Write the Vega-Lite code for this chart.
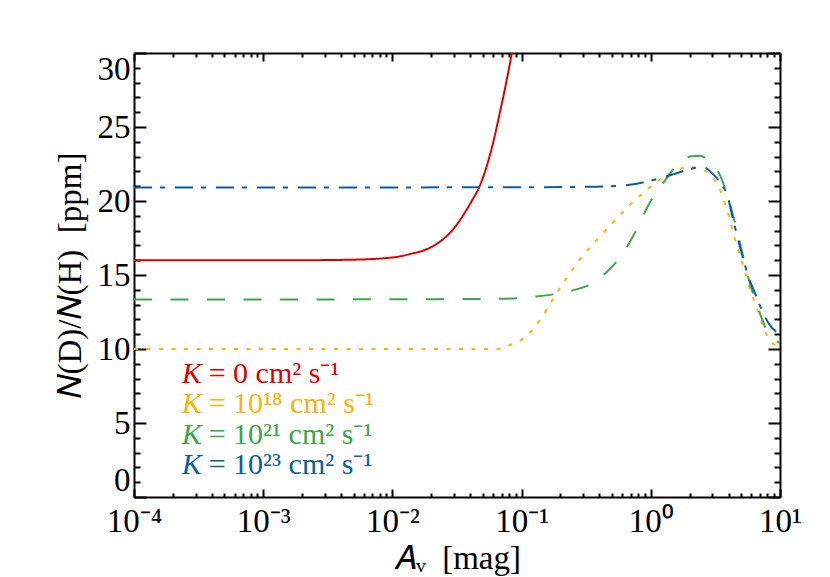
{
  "$schema": "https://vega.github.io/schema/vega-lite/v6.json",
  "width": 646,
  "height": 444,
  "autosize": {"type": "none"},
  "padding": {"left": 134, "top": 53, "right": 50, "bottom": 80},
  "background": "white",
  "config": {
    "view": {"stroke": null},
    "axis": {
      "grid": false,
      "domainColor": "black",
      "domainWidth": 2,
      "tickColor": "black",
      "tickWidth": 2,
      "labelFont": "Liberation Serif",
      "labelFontSize": 33,
      "labelColor": "black",
      "titleFont": "Liberation Serif",
      "titleFontSize": 33,
      "titleFontWeight": "normal",
      "titleColor": "black",
      "labelOverlap": false
    }
  },
  "resolve": {"axis": {"x": "independent", "y": "independent"}},
  "layer": [
    {
      "data": {
        "values": [
          {"K": "0", "av": 0.0001, "d": 16.0},
          {"K": "0", "av": 0.0003, "d": 16.0},
          {"K": "0", "av": 0.00193, "d": 16.0},
          {"K": "0", "av": 0.0047, "d": 16.03},
          {"K": "0", "av": 0.0085, "d": 16.13},
          {"K": "0", "av": 0.0115, "d": 16.26},
          {"K": "0", "av": 0.0137, "d": 16.42},
          {"K": "0", "av": 0.0184, "d": 16.74},
          {"K": "0", "av": 0.0233, "d": 17.25},
          {"K": "0", "av": 0.0296, "d": 18.1},
          {"K": "0", "av": 0.0354, "d": 19.05},
          {"K": "0", "av": 0.0411, "d": 20.0},
          {"K": "0", "av": 0.0476, "d": 21.05},
          {"K": "0", "av": 0.055, "d": 22.65},
          {"K": "0", "av": 0.061, "d": 24.15},
          {"K": "0", "av": 0.068, "d": 26.0},
          {"K": "0", "av": 0.076, "d": 28.0},
          {"K": "0", "av": 0.084, "d": 30.0},
          {"K": "0", "av": 0.09, "d": 31.6},
          {"K": "1e18", "av": 0.0001, "d": 10.0},
          {"K": "1e18", "av": 0.001, "d": 10.0},
          {"K": "1e18", "av": 0.01, "d": 10.0},
          {"K": "1e18", "av": 0.05, "d": 10.0},
          {"K": "1e18", "av": 0.068, "d": 10.02},
          {"K": "1e18", "av": 0.0813, "d": 10.27},
          {"K": "1e18", "av": 0.103, "d": 10.7},
          {"K": "1e18", "av": 0.139, "d": 11.96},
          {"K": "1e18", "av": 0.176, "d": 13.4},
          {"K": "1e18", "av": 0.223, "d": 14.8},
          {"K": "1e18", "av": 0.292, "d": 16.2},
          {"K": "1e18", "av": 0.404, "d": 17.6},
          {"K": "1e18", "av": 0.544, "d": 18.8},
          {"K": "1e18", "av": 0.733, "d": 19.95},
          {"K": "1e18", "av": 0.875, "d": 20.55},
          {"K": "1e18", "av": 1.04, "d": 21.1},
          {"K": "1e18", "av": 1.53, "d": 22.0},
          {"K": "1e18", "av": 1.95, "d": 22.3},
          {"K": "1e18", "av": 2.4, "d": 22.2},
          {"K": "1e18", "av": 2.87, "d": 21.75},
          {"K": "1e18", "av": 3.33, "d": 21.0},
          {"K": "1e18", "av": 3.79, "d": 19.7},
          {"K": "1e18", "av": 4.16, "d": 18.5},
          {"K": "1e18", "av": 4.62, "d": 17.0},
          {"K": "1e18", "av": 5.17, "d": 15.7},
          {"K": "1e18", "av": 5.8, "d": 14.2},
          {"K": "1e18", "av": 6.79, "d": 12.5},
          {"K": "1e18", "av": 7.5, "d": 11.4},
          {"K": "1e18", "av": 8.2, "d": 10.7},
          {"K": "1e18", "av": 9.4, "d": 10.2},
          {"K": "1e18", "av": 10, "d": 10.1},
          {"K": "1e21", "av": 0.0001, "d": 13.35},
          {"K": "1e21", "av": 0.001, "d": 13.35},
          {"K": "1e21", "av": 0.01, "d": 13.36},
          {"K": "1e21", "av": 0.0764, "d": 13.4},
          {"K": "1e21", "av": 0.123, "d": 13.53},
          {"K": "1e21", "av": 0.223, "d": 13.87},
          {"K": "1e21", "av": 0.359, "d": 14.48},
          {"K": "1e21", "av": 0.456, "d": 15.2},
          {"K": "1e21", "av": 0.578, "d": 16.2},
          {"K": "1e21", "av": 0.69, "d": 17.25},
          {"K": "1e21", "av": 0.82, "d": 18.5},
          {"K": "1e21", "av": 0.93, "d": 19.5},
          {"K": "1e21", "av": 1.08, "d": 20.5},
          {"K": "1e21", "av": 1.29, "d": 21.4},
          {"K": "1e21", "av": 1.58, "d": 22.4},
          {"K": "1e21", "av": 2.01, "d": 23.0},
          {"K": "1e21", "av": 2.4, "d": 23.05},
          {"K": "1e21", "av": 2.87, "d": 22.65},
          {"K": "1e21", "av": 3.43, "d": 21.75},
          {"K": "1e21", "av": 3.87, "d": 20.5},
          {"K": "1e21", "av": 4.62, "d": 18.1},
          {"K": "1e21", "av": 5.69, "d": 14.8},
          {"K": "1e21", "av": 7.0, "d": 12.4},
          {"K": "1e21", "av": 8.1, "d": 11.05},
          {"K": "1e21", "av": 9.4, "d": 10.5},
          {"K": "1e21", "av": 10, "d": 10.43},
          {"K": "1e23", "av": 0.0001, "d": 20.92},
          {"K": "1e23", "av": 0.001, "d": 20.92},
          {"K": "1e23", "av": 0.01, "d": 20.92},
          {"K": "1e23", "av": 0.1, "d": 20.93},
          {"K": "1e23", "av": 0.3, "d": 20.96},
          {"K": "1e23", "av": 0.456, "d": 20.99},
          {"K": "1e23", "av": 0.733, "d": 21.13},
          {"K": "1e23", "av": 1.02, "d": 21.4},
          {"K": "1e23", "av": 1.49, "d": 21.8},
          {"K": "1e23", "av": 2.01, "d": 22.16},
          {"K": "1e23", "av": 2.55, "d": 22.3},
          {"K": "1e23", "av": 2.96, "d": 21.9},
          {"K": "1e23", "av": 3.54, "d": 21.1},
          {"K": "1e23", "av": 3.87, "d": 20.5},
          {"K": "1e23", "av": 4.35, "d": 18.7},
          {"K": "1e23", "av": 4.9, "d": 16.9},
          {"K": "1e23", "av": 5.69, "d": 14.9},
          {"K": "1e23", "av": 6.6, "d": 13.5},
          {"K": "1e23", "av": 7.43, "d": 12.4},
          {"K": "1e23", "av": 8.37, "d": 11.6},
          {"K": "1e23", "av": 9.7, "d": 11.05},
          {"K": "1e23", "av": 10, "d": 10.95}
        ]
      },
      "mark": {"type": "line", "strokeWidth": 2, "clip": true, "interpolate": "monotone"},
      "encoding": {
        "x": {
          "field": "av", "type": "quantitative",
          "scale": {"type": "log", "domain": [0.0001, 10], "nice": false},
          "axis": {
            "orient": "bottom",
            "values": [0.0001, 0.001, 0.01, 0.1, 1, 10],
            "tickSize": -8,
            "labelPadding": 16,
            "labelFlush": false,
            "labelExpr": "datum.value < 0.00015 ? '10⁻⁴' : datum.value < 0.0015 ? '10⁻³' : datum.value < 0.015 ? '10⁻²' : datum.value < 0.15 ? '10⁻¹' : datum.value < 1.5 ? '10⁰' : '10¹'",
            "title": "𝐴ᵥ\u00a0\u00a0[mag]",
            "titlePadding": 4
          }
        },
        "y": {
          "field": "d", "type": "quantitative",
          "scale": {"domain": [0, 30], "nice": false, "zero": false},
          "axis": {
            "orient": "left",
            "values": [0, 5, 10, 15, 20, 25, 30],
            "tickSize": -12,
            "labelPadding": 16,
            "labelFlush": true,
            "title": "𝑁(D)/𝑁(H)\u00a0\u00a0[ppm]",
            "titlePadding": 10
          }
        },
        "color": {
          "field": "K", "type": "nominal",
          "scale": {"domain": ["0", "1e18", "1e21", "1e23"], "range": ["#dd0000", "#ffb300", "#3ca54e", "#0a5e9c"]},
          "legend": null
        },
        "strokeDash": {
          "field": "K", "type": "nominal",
          "scale": {"domain": ["0", "1e18", "1e21", "1e23"], "range": [[1, 0], [4, 8.5], [18, 18.5], [18, 8, 5, 10]]},
          "legend": null
        }
      }
    },
    {
      "data": {"values": [{}]},
      "mark": {"type": "point", "opacity": 0},
      "encoding": {
        "x": {"datum": 1, "type": "quantitative", "axis": {"orient": "bottom", "values": [0.0002, 0.0003, 0.0004, 0.0005, 0.0006, 0.0007, 0.0008, 0.0009, 0.002, 0.003, 0.004, 0.005, 0.006, 0.007, 0.008, 0.009, 0.02, 0.03, 0.04, 0.05, 0.06, 0.07, 0.08, 0.09, 0.2, 0.3, 0.4, 0.5, 0.6, 0.7, 0.8, 0.9, 2, 3, 4, 5, 6, 7, 8, 9], "tickSize": -4, "labels": false, "domain": false, "title": null}},
        "y": {"datum": 10, "type": "quantitative", "axis": {"orient": "left", "values": [1, 2, 3, 4, 6, 7, 8, 9, 11, 12, 13, 14, 16, 17, 18, 19, 21, 22, 23, 24, 26, 27, 28, 29], "tickSize": -6, "labels": false, "domain": false, "title": null}}
      }
    },
    {
      "data": {"values": [{}]},
      "mark": {"type": "point", "opacity": 0},
      "encoding": {
        "x": {"datum": 1, "type": "quantitative", "axis": {"orient": "top", "values": [0.0001, 0.001, 0.01, 0.1, 1, 10], "tickSize": -8, "labels": false, "title": null}},
        "y": {"datum": 10, "type": "quantitative", "axis": {"orient": "right", "values": [0, 5, 10, 15, 20, 25, 30], "tickSize": -12, "labels": false, "title": null}}
      }
    },
    {
      "data": {"values": [{}]},
      "mark": {"type": "point", "opacity": 0},
      "encoding": {
        "x": {"datum": 1, "type": "quantitative", "axis": {"orient": "top", "values": [0.0002, 0.0003, 0.0004, 0.0005, 0.0006, 0.0007, 0.0008, 0.0009, 0.002, 0.003, 0.004, 0.005, 0.006, 0.007, 0.008, 0.009, 0.02, 0.03, 0.04, 0.05, 0.06, 0.07, 0.08, 0.09, 0.2, 0.3, 0.4, 0.5, 0.6, 0.7, 0.8, 0.9, 2, 3, 4, 5, 6, 7, 8, 9], "tickSize": -4, "labels": false, "domain": false, "title": null}},
        "y": {"datum": 10, "type": "quantitative", "axis": {"orient": "right", "values": [1, 2, 3, 4, 6, 7, 8, 9, 11, 12, 13, 14, 16, 17, 18, 19, 21, 22, 23, 24, 26, 27, 28, 29], "tickSize": -6, "labels": false, "domain": false, "title": null}}
      }
    },
    {
      "data": {"values": [{"label": "K"}]},
      "mark": {"type": "text", "align": "left", "baseline": "alphabetic", "font": "Liberation Serif", "fontStyle": "italic", "fontSize": 30, "color": "#dd0000"},
      "encoding": {"text": {"field": "label"}, "x": {"datum": 0.000234, "type": "quantitative", "axis": null}, "y": {"datum": 7.7, "type": "quantitative", "axis": null}}
    },
    {
      "data": {"values": [{"label": "= 0 cm² s⁻¹"}]},
      "mark": {"type": "text", "align": "left", "baseline": "alphabetic", "font": "Liberation Serif", "fontSize": 30, "color": "#dd0000", "dx": 27},
      "encoding": {"text": {"field": "label"}, "x": {"datum": 0.000234, "type": "quantitative", "axis": null}, "y": {"datum": 7.7, "type": "quantitative", "axis": null}}
    },
    {
      "data": {"values": [{"label": "K"}]},
      "mark": {"type": "text", "align": "left", "baseline": "alphabetic", "font": "Liberation Serif", "fontStyle": "italic", "fontSize": 30, "color": "#ffb300"},
      "encoding": {"text": {"field": "label"}, "x": {"datum": 0.000234, "type": "quantitative", "axis": null}, "y": {"datum": 5.65, "type": "quantitative", "axis": null}}
    },
    {
      "data": {"values": [{"label": "= 10¹⁸ cm² s⁻¹"}]},
      "mark": {"type": "text", "align": "left", "baseline": "alphabetic", "font": "Liberation Serif", "fontSize": 30, "color": "#ffb300", "dx": 27},
      "encoding": {"text": {"field": "label"}, "x": {"datum": 0.000234, "type": "quantitative", "axis": null}, "y": {"datum": 5.65, "type": "quantitative", "axis": null}}
    },
    {
      "data": {"values": [{"label": "K"}]},
      "mark": {"type": "text", "align": "left", "baseline": "alphabetic", "font": "Liberation Serif", "fontStyle": "italic", "fontSize": 30, "color": "#3ca54e"},
      "encoding": {"text": {"field": "label"}, "x": {"datum": 0.000234, "type": "quantitative", "axis": null}, "y": {"datum": 3.6, "type": "quantitative", "axis": null}}
    },
    {
      "data": {"values": [{"label": "= 10²¹ cm² s⁻¹"}]},
      "mark": {"type": "text", "align": "left", "baseline": "alphabetic", "font": "Liberation Serif", "fontSize": 30, "color": "#3ca54e", "dx": 27},
      "encoding": {"text": {"field": "label"}, "x": {"datum": 0.000234, "type": "quantitative", "axis": null}, "y": {"datum": 3.6, "type": "quantitative", "axis": null}}
    },
    {
      "data": {"values": [{"label": "K"}]},
      "mark": {"type": "text", "align": "left", "baseline": "alphabetic", "font": "Liberation Serif", "fontStyle": "italic", "fontSize": 30, "color": "#0a5e9c"},
      "encoding": {"text": {"field": "label"}, "x": {"datum": 0.000234, "type": "quantitative", "axis": null}, "y": {"datum": 1.55, "type": "quantitative", "axis": null}}
    },
    {
      "data": {"values": [{"label": "= 10²³ cm² s⁻¹"}]},
      "mark": {"type": "text", "align": "left", "baseline": "alphabetic", "font": "Liberation Serif", "fontSize": 30, "color": "#0a5e9c", "dx": 27},
      "encoding": {"text": {"field": "label"}, "x": {"datum": 0.000234, "type": "quantitative", "axis": null}, "y": {"datum": 1.55, "type": "quantitative", "axis": null}}
    }
  ]
}
